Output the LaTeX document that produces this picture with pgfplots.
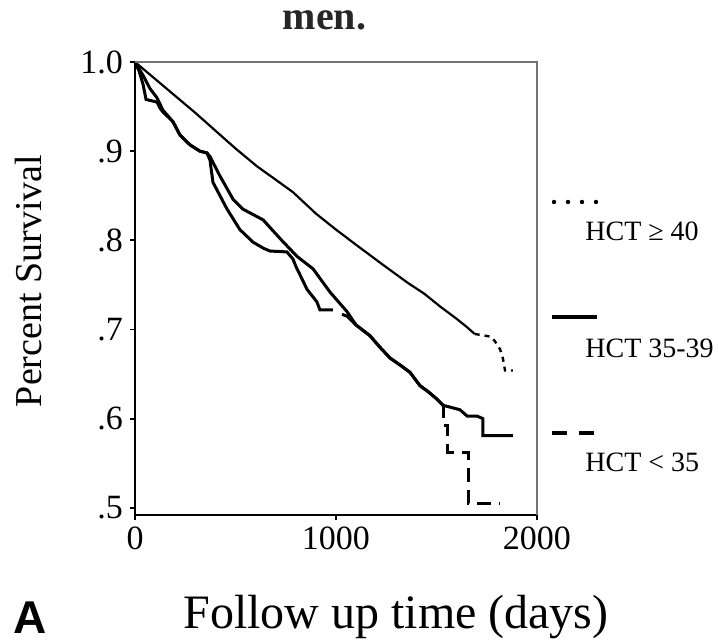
\documentclass[border=0pt]{standalone}
\usepackage{pgfplots}
\pgfplotsset{compat=1.18}
\usepackage{fontspec}
\setmainfont{Liberation Serif}
\newfontfamily\sansfont{Liberation Sans}
\begin{document}
\begin{tikzpicture}
\useasboundingbox (-67.5pt,-63pt) rectangle (291.5pt,257.5pt);
\begin{axis}[
  at={(0pt,0pt)}, anchor=south west,
  scale only axis, width=201pt, height=226.5pt,
  xmin=0, xmax=2000, ymin=0.492, ymax=1.0,
  axis lines*=left,
  axis line style={line width=0.9pt, black},
  xtick={0,1000,2000}, xticklabels={0,1000,2000},
  ytick={0.5,0.6,0.7,0.8,0.9,1.0}, yticklabels={.5,.6,.7,.8,.9,1.0},
  tick align=outside, major tick length=2.5pt,
  tick style={black, line width=0.9pt},
  ticklabel style={font=\fontsize{17}{17}\selectfont},
  clip=false,
]
% HCT >= 40 (main part)
\addplot[black, line width=1.1pt] coordinates {
(0,1.0) (100,0.981) (200,0.962) (300,0.943) (400,0.923) (500,0.903)
(607,0.883) (700,0.868) (786,0.854) (900,0.830) (1000,0.812) (1100,0.795)
(1219,0.775) (1353,0.753) (1440,0.740) (1517,0.726) (1600,0.712)
(1650,0.703) (1690,0.695)
};
% HCT >= 40 (tail)
\addplot[black, line width=1.2pt, dash pattern=on 2.5pt off 2.5pt] coordinates {
(1690,0.695) (1770,0.692) (1790,0.687) (1816,0.678) (1830,0.668)
(1841,0.654) (1880,0.654)
};
% HCT 35-39
\addplot[black, line width=1.5pt] coordinates {
(0,1.0) (40,0.985) (75,0.970) (109,0.960) (139,0.946) (189,0.933)
(224,0.918) (274,0.907) (323,0.900) (358,0.898) (373,0.894) (423,0.872)
(488,0.846) (537,0.835) (637,0.823) (730,0.800) (806,0.782) (886,0.768)
(970,0.742) (1055,0.720) (1100,0.705) (1169,0.693) (1219,0.680)
(1269,0.668) (1320,0.660) (1368,0.652) (1418,0.637) (1460,0.630)
(1502,0.622) (1532,0.615) (1567,0.613) (1617,0.610) (1652,0.603)
(1701,0.603) (1731,0.600) (1731,0.581) (1880,0.581)
};
% HCT < 35 (first part)
\addplot[black, line width=1.5pt] coordinates {
(0,1.0) (20,0.99) (40,0.975) (55,0.958) (110,0.955) (125,0.948)
(139,0.944) (189,0.933) (224,0.918) (274,0.907) (323,0.900) (358,0.898)
(373,0.890) (388,0.865) (423,0.850) (458,0.835) (522,0.812) (587,0.798)
(640,0.791) (672,0.788) (756,0.787) (786,0.779) (800,0.771) (856,0.745)
(905,0.731) (920,0.722) (985,0.722)
};
% HCT < 35 (middle part)
\addplot[black, line width=1.5pt] coordinates {
(1030,0.717) (1055,0.715) (1100,0.705) (1169,0.693) (1219,0.680)
(1269,0.668) (1320,0.660) (1368,0.652) (1418,0.637) (1460,0.630)
(1502,0.622) (1532,0.615)
};
% HCT < 35 (tail)
\addplot[black, line width=1.5pt, dash pattern=on 7pt off 4pt] coordinates {
(1532,0.615) (1537,0.615) (1537,0.592) (1557,0.592) (1557,0.562)
(1657,0.562) (1657,0.505) (1816,0.505)
};
\end{axis}
% top and right frame
\draw[black!55, line width=0.8pt] (0pt,226.5pt) -- (201pt,226.5pt) -- (201pt,0pt);
% legend
\draw[line width=2.2pt, line cap=round, dash pattern=on 0pt off 7pt] (209.5pt,156.5pt) -- (231pt,156.5pt);
\draw[line width=2pt] (208.5pt,99pt) -- (231pt,99pt);
\draw[line width=2pt, dash pattern=on 7.5pt off 6pt] (208.5pt,41pt) -- (229.5pt,41pt);
\node[anchor=west, inner sep=0pt, font=\fontsize{14}{14}\selectfont] at (225pt,142pt) {HCT ≥ 40};
\node[anchor=west, inner sep=0pt, font=\fontsize{14}{14}\selectfont] at (225pt,83.5pt) {HCT 35-39};
\node[anchor=west, inner sep=0pt, font=\fontsize{14}{14}\selectfont] at (225pt,26.5pt) {HCT < 35};
% axis titles
\node[rotate=90, anchor=base, inner sep=0pt, font=\fontsize{19}{19}\selectfont] at (-46.5pt,117pt) {Percent Survival};
\node[anchor=base, inner sep=0pt, font=\fontsize{24}{24}\selectfont] at (130.5pt,-57pt) {Follow up time (days)};
\node[anchor=base west, inner sep=0pt, font=\sansfont\bfseries\fontsize{23}{23}\selectfont] at (-61pt,-59.5pt) {A};
\node[anchor=base, inner sep=0pt, text=black!85, font=\bfseries\fontsize{20}{20}\selectfont] at (94.75pt,242.5pt) {men.};
\end{tikzpicture}
\end{document}
